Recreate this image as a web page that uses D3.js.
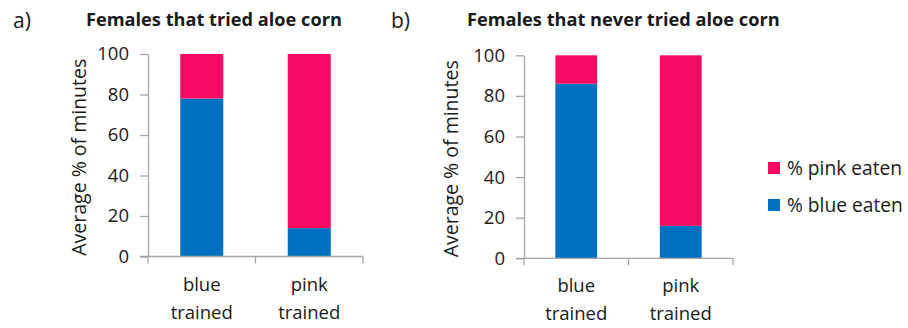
<!DOCTYPE html>
<html>
<head>
<meta charset="utf-8">
<script src="https://cdn.jsdelivr.net/npm/d3@7"></script>
<style>
  html, body { margin: 0; padding: 0; background: #fff; }
  svg text { font-family: "Open Sans", "Noto Sans", sans-serif; fill: #1a1a1a; }
</style>
</head>
<body>
<svg id="chart" width="908" height="328"></svg>
<script>
// Training groups along the x axis
const categories = ["blue trained", "pink trained"];
// Average % of minutes spent eating each colour
const blueEatenTried = [78, 14];
const pinkEatenTried = [22, 86];
const blueEatenNever = [86, 16];
const pinkEatenNever = [14, 84];
const yTicks = [0, 20, 40, 60, 80, 100];
const seriesNames = ["% blue eaten", "% pink eaten"];
const seriesColors = ["#0070C0", "#F80A62"];
const titles = ["Females that tried aloe corn", "Females that never tried aloe corn"];
const panelLabels = ["a)", "b)"];

const svg = d3.select("#chart");

function toRows(blue, pink) {
  return categories.map((c, i) => ({ category: c, blue: blue[i], pink: pink[i] }));
}

const panels = [
  { rows: toRows(blueEatenTried, pinkEatenTried), left: 148, right: 363, top: 54, bottom: 256.5,
    labelX: 13, titleX: 86, yLabelX: 86 },
  { rows: toRows(blueEatenNever, pinkEatenNever), left: 524, right: 733, top: 55.3, bottom: 258.3,
    labelX: 391, titleX: 467, yLabelX: 458 }
];

const stack = d3.stack().keys(["blue", "pink"]);

panels.forEach((p, pi) => {
  const g = svg.append("g");

  const x = d3.scaleBand().domain(categories).range([p.left, p.right])
    .paddingInner(0.6).paddingOuter(0.3);
  const y = d3.scaleLinear().domain([0, 100]).range([p.bottom, p.top]);

  // stacked bars
  const layers = stack(p.rows);
  g.selectAll("g.layer").data(layers).join("g")
    .attr("class", "layer")
    .attr("fill", (d, i) => seriesColors[i])
    .selectAll("rect").data(d => d).join("rect")
      .attr("x", d => x(d.data.category))
      .attr("width", x.bandwidth())
      .attr("y", d => y(d[1]))
      .attr("height", d => y(d[0]) - y(d[1]));

  // y axis
  const yAxis = g.append("g")
    .attr("transform", `translate(${p.left},0)`)
    .call(d3.axisLeft(y).tickValues(yTicks).tickSize(8).tickSizeOuter(0).tickPadding(11));
  yAxis.select(".domain").attr("stroke", "#a6a6a6").attr("stroke-width", 1.3);
  yAxis.selectAll(".tick line").attr("stroke", "#a6a6a6").attr("stroke-width", 1.3);
  yAxis.selectAll(".tick text").style("font-size", "18.5px").attr("fill", "#1a1a1a")
    .style("font-family", "'Open Sans', sans-serif");

  // x axis with category-boundary ticks
  const step = x.step();
  const boundaries = [x(categories[0]) - step * 0.3].concat(categories.map(c => x(c) + x.bandwidth() + step * 0.3));
  const xAxis = g.append("g").attr("transform", `translate(0,${p.bottom})`);
  xAxis.append("line").attr("x1", p.left - 8).attr("x2", p.right)
    .attr("stroke", "#a6a6a6").attr("stroke-width", 1.3);
  xAxis.selectAll("line.bt").data(boundaries).join("line")
    .attr("class", "bt")
    .attr("x1", d => d).attr("x2", d => d).attr("y1", 0).attr("y2", 7)
    .attr("stroke", "#a6a6a6").attr("stroke-width", 1.3);

  // category labels on two lines
  const catText = g.selectAll("text.cat").data(categories).join("text")
    .attr("class", "cat")
    .attr("text-anchor", "middle")
    .style("font-size", "18.5px");
  catText.each(function (c) {
    const words = c.split(" ");
    const t = d3.select(this);
    words.forEach((w, i) => {
      t.append("tspan")
        .attr("x", x(c) + x.bandwidth() / 2)
        .attr("y", p.bottom + 34 + i * 28)
        .text(w);
    });
  });

  // y axis title
  g.append("text")
    .attr("transform", `translate(${p.yLabelX},${(p.top + p.bottom) / 2 + 2}) rotate(-90)`)
    .attr("text-anchor", "middle")
    .style("font-size", "19.5px")
    .text("Average % of minutes");

  // chart title and panel letter
  g.append("text").attr("x", p.titleX).attr("y", 26)
    .style("font-size", "18.2px").style("font-weight", "bold")
    .text(titles[pi]);
  g.append("text").attr("x", p.labelX).attr("y", 28)
    .style("font-size", "21px")
    .text(panelLabels[pi]);
});

// legend
const legendOrder = [1, 0];
const legend = svg.append("g");
legendOrder.forEach((s, i) => {
  legend.append("rect")
    .attr("x", 768).attr("y", 162 + i * 37)
    .attr("width", 12).attr("height", 12)
    .attr("fill", seriesColors[s]);
  legend.append("text")
    .attr("x", 787).attr("y", 175 + i * 37)
    .style("font-size", "19.2px")
    .text(seriesNames[s]);
});
</script>
</body>
</html>
